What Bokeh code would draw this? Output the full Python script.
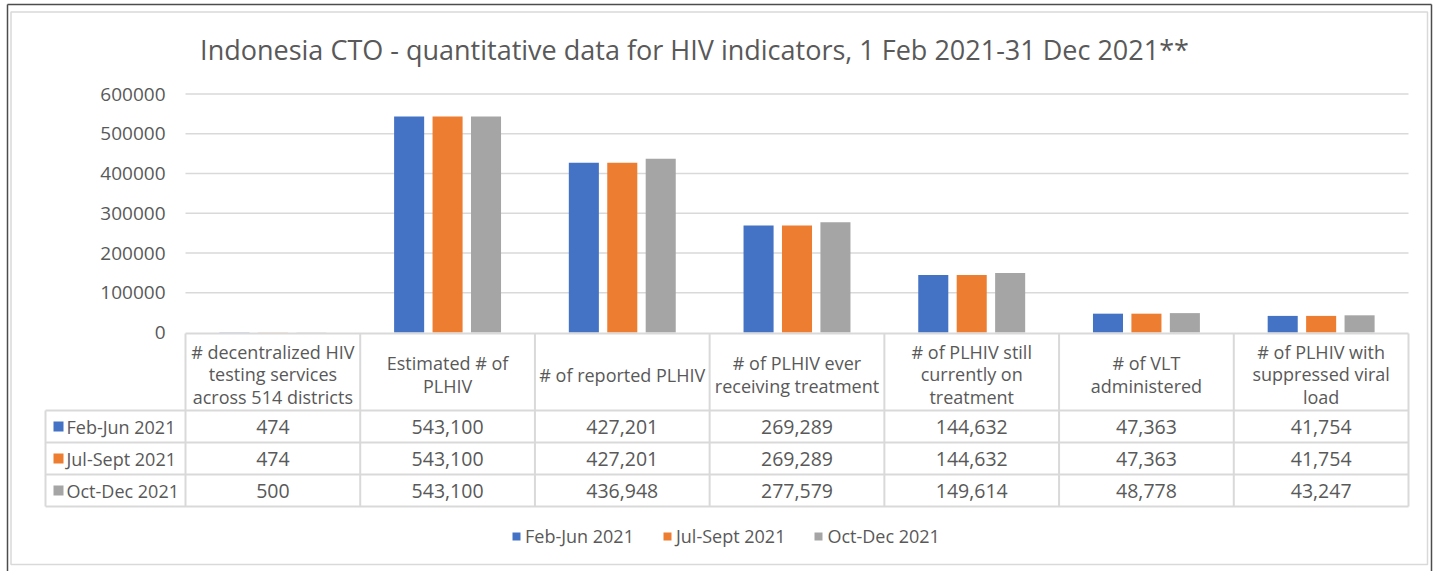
from bokeh.plotting import figure
from bokeh.models import Range1d, LinearAxis, FixedTicker, BasicTickFormatter, ColumnDataSource
from bokeh.transform import dodge
from bokeh.core.properties import value
from bokeh.embed import file_html
from bokeh.resources import INLINE

# ---------------- data ----------------
categories = [
    "# decentralized HIV\ntesting services\nacross 514 districts",
    "Estimated # of\nPLHIV",
    "# of reported PLHIV",
    "# of PLHIV ever\nreceiving treatment",
    "# of PLHIV still\ncurrently on\ntreatment",
    "# of VLT\nadministered",
    "# of PLHIV with\nsuppressed viral\nload",
]
series_names = ["Feb-Jun 2021", "Jul-Sept 2021", "Oct-Dec 2021"]
feb_jun = [474, 543100, 427201, 269289, 144632, 47363, 41754]
jul_sept = [474, 543100, 427201, 269289, 144632, 47363, 41754]
oct_dec = [500, 543100, 436948, 277579, 149614, 48778, 43247]
y_ticks = [0, 100000, 200000, 300000, 400000, 500000, 600000]
title_text = "Indonesia CTO - quantitative data for HIV indicators, 1 Feb 2021-31 Dec 2021**"
colors = ["#4472C4", "#ED7D31", "#A5A5A5"]

series = [feb_jun, jul_sept, oct_dec]

# ---------------- layout (page pixels) ----------------
PAGE_L, PAGE_T = 0, 0
W, H = 1439, 571
PLOT_L, PLOT_R = 185, 1408
Y0_PX, YMAX_PX = 332, 93.5
TABLE_L = 45
HDR_T, HDR_B = 333, 410
ROW_B = [442, 474, 506]

n = len(categories)
UNIT = (PLOT_R - PLOT_L) / n
VPX = y_ticks[-1] / (Y0_PX - YMAX_PX)

FONT = value("Open Sans")
TXT = "#595959"
LINE = "#D9D9D9"

p = figure(
    width=W, height=H,
    x_range=Range1d((PAGE_L - PLOT_L) / UNIT, (PAGE_L + W - PLOT_L) / UNIT),
    y_range=Range1d(-(PAGE_T + H - Y0_PX) * VPX, (Y0_PX - PAGE_T) * VPX),
    output_backend="svg", toolbar_location=None, tools="",
    x_axis_location=None, y_axis_location=None, min_border=0,
)
p.outline_line_color = None
p.xgrid.visible = False
p.ygrid.visible = False
p.background_fill_color = "white"
p.border_fill_color = "white"
p.extra_x_ranges = {"px": Range1d(PAGE_L, PAGE_L + W)}
p.extra_y_ranges = {"px": Range1d(PAGE_T + H, PAGE_T)}

# y axis placed at the left edge of the category area
yaxis = LinearAxis(
    fixed_location=0,
    ticker=FixedTicker(ticks=y_ticks),
    formatter=BasicTickFormatter(use_scientific=False),
    axis_line_color=None, major_tick_line_color=None, minor_tick_line_color=None,
    major_label_text_font="Open Sans", major_label_text_font_size="19px",
    major_label_text_color=TXT, major_label_standoff=14,
)
p.add_layout(yaxis, "left")

# gridlines
p.segment(x0=0, x1=n, y0=y_ticks[1:], y1=y_ticks[1:], line_color=LINE, line_width=1.5)

# bars
src = ColumnDataSource(dict(xc=[i + 0.5 for i in range(n)], s0=feb_jun, s1=jul_sept, s2=oct_dec))
offsets = [-0.22, 0.0, 0.22]
for k in range(3):
    p.vbar(x=dodge("xc", offsets[k]), top=f"s{k}", bottom=0, width=0.172, source=src,
           fill_color=colors[k], line_color=None, legend_label=series_names[k])

# data table lines
left_u = (TABLE_L - PLOT_L) / UNIT
p.segment(x0=[0], x1=[n], y0=[HDR_T], y1=[HDR_T], y_range_name="px", line_color=LINE, line_width=2)
hy = [HDR_B] + ROW_B
p.segment(x0=[left_u] * len(hy), x1=[n] * len(hy), y0=hy, y1=hy, y_range_name="px",
          line_color=LINE, line_width=2)
p.segment(x0=[left_u], x1=[left_u], y0=[HDR_B], y1=[ROW_B[-1]], y_range_name="px",
          line_color=LINE, line_width=2)
vx = list(range(n + 1))
p.segment(x0=vx, x1=vx, y0=[HDR_T] * len(vx), y1=[ROW_B[-1]] * len(vx), y_range_name="px",
          line_color=LINE, line_width=2)

# header texts
p.text(x=[i + 0.5 for i in range(n)], y=[(HDR_T + HDR_B) / 2 + 2.5] * n, text=categories,
       y_range_name="px", text_font=FONT, text_font_size="18px", text_color=TXT,
       text_align="center", text_baseline="middle", text_line_height=0.95)

# rows
row_tops = [HDR_B] + ROW_B[:-1]
for k in range(3):
    yc = (row_tops[k] + ROW_B[k]) / 2
    p.text(x=[i + 0.5 for i in range(n)], y=[yc] * n, text=[f"{v:,}" for v in series[k]],
           y_range_name="px", text_font=FONT, text_font_size="19.5px", text_color=TXT,
           text_align="center", text_baseline="middle")
    p.scatter(x=[58], y=[yc], marker="square", size=10, fill_color=colors[k], line_color=None,
              x_range_name="px", y_range_name="px")
    p.text(x=[66], y=[yc], text=[series_names[k]], x_range_name="px", y_range_name="px",
           text_font=FONT, text_font_size="18px", text_color=TXT,
           text_align="left", text_baseline="middle")

# title
p.text(x=[694], y=[49], text=[title_text], x_range_name="px", y_range_name="px",
       text_font=FONT, text_font_size="27px", text_color=TXT,
       text_align="center", text_baseline="middle")

# chart borders
p.segment(x0=[7, 7, 1431], x1=[1431, 7, 1431],
          y0=[4, 4, 4], y1=[4, H, H],
          x_range_name="px", y_range_name="px", line_color="#4D4D4D", line_width=1.5)
p.quad(left=[10.5], right=[1427], top=[11.5], bottom=[564], x_range_name="px", y_range_name="px",
       fill_color=None, line_color="#D9D9D9", line_width=1.5)

# legend
lg = p.legend[0]
lg.location = (511, 23)
lg.orientation = "horizontal"
lg.label_text_font = "Open Sans"
lg.label_text_font_size = "18px"
lg.label_text_color = TXT
lg.glyph_width = 10
lg.glyph_height = 10
lg.label_standoff = 4
lg.spacing = 28
lg.padding = 0
lg.margin = 0
lg.border_line_color = None
lg.background_fill_alpha = 0

open("out.html", "w").write(file_html(p, INLINE))
